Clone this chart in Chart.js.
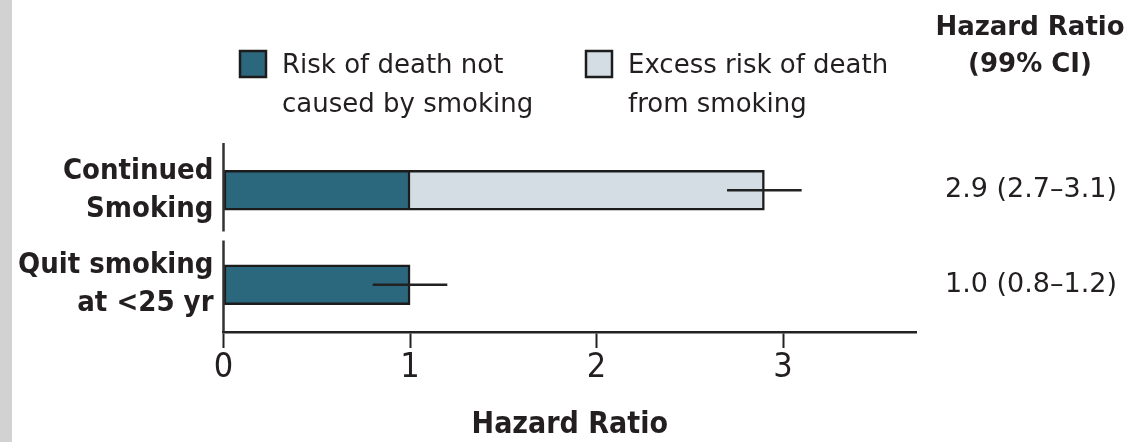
<!DOCTYPE html>
<html>
<head>
<meta charset="utf-8">
<script src="https://cdn.jsdelivr.net/npm/chart.js@4.4.1/dist/chart.umd.min.js"></script>
<style>
  html, body { margin: 0; padding: 0; background: #ffffff; }
  #wrap { position: relative; width: 1133px; height: 442px; }
  #strip { position: absolute; left: 0; top: 0; width: 12px; height: 442px; background: #d2d2d2; }
  canvas { position: absolute; left: 0; top: 0; }
</style>
</head>
<body>
<div id="wrap">
  <canvas id="chart" width="1133" height="442"></canvas>
  <div id="strip"></div>
</div>
<script>
// Groups compared (two-line labels)
const categories = [['Continued', 'Smoking'], ['Quit smoking', 'at <25 yr']];
// Hazard ratio split into the baseline part and the smoking-related excess
const baseRisk = [1.0, 1.0];
const excessRisk = [1.9, 0];
// Hazard ratios with 99% confidence limits
const hazardRatio = [2.9, 1.0];
const ciLow = [2.7, 0.8];
const ciHigh = [3.1, 1.2];
// Axis ticks
const xTickValues = [0, 1, 2, 3];
// Legend and column header text
const seriesNames = [['Risk of death not', 'caused by smoking'], ['Excess risk of death', 'from smoking']];
const columnHeader = ['Hazard Ratio', '(99% CI)'];
const axisTitle = 'Hazard Ratio';

const INK = '#231f20';
const DARK = '#2b677d';
const LIGHT = '#d3dde3';
const EDGE = '#1c1c1c';
const SANS = "'DejaVu Sans', sans-serif";
const COND = "'DejaVu Sans Condensed', 'DejaVu Sans', sans-serif";

function fmt(v) { return v.toFixed(1); }

const decor = {
  id: 'decor',
  afterDatasetsDraw(chart) {
    const { ctx, chartArea, scales: { x, y } } = chart;
    const line = (x1, y1, x2, y2) => { ctx.beginPath(); ctx.moveTo(x1, y1); ctx.lineTo(x2, y2); ctx.stroke(); };
    ctx.save();

    // broken vertical axis: one segment per category band
    const n = categories.length;
    const step = (chartArea.bottom - chartArea.top) / n;
    ctx.strokeStyle = '#333';
    ctx.lineWidth = 2.5;
    for (let i = 0; i < n; i++) {
      const c = y.getPixelForValue(i);
      const top = Math.max(chartArea.top, c - step / 2 + (i > 0 ? 3 : 0));
      const bot = Math.min(chartArea.bottom, c + step / 2 - (i < n - 1 ? 6 : 0));
      line(chartArea.left, top, chartArea.left, bot);
    }

    // confidence interval whiskers
    ctx.strokeStyle = '#222';
    ctx.lineWidth = 2.5;
    for (let i = 0; i < n; i++) {
      const py = y.getPixelForValue(i);
      line(x.getPixelForValue(ciLow[i]), py, x.getPixelForValue(ciHigh[i]), py);
    }

    // hazard ratio column
    ctx.fillStyle = INK;
    ctx.textAlign = 'center';
    ctx.textBaseline = 'alphabetic';
    ctx.font = 'bold 26px ' + SANS;
    ctx.fillText(columnHeader[0], 1030, 35);
    ctx.fillText(columnHeader[1], 1030, 72);
    ctx.font = '27px ' + SANS;
    ctx.textBaseline = 'middle';
    for (let i = 0; i < n; i++) {
      const txt = fmt(hazardRatio[i]) + ' (' + fmt(ciLow[i]) + '\u2013' + fmt(ciHigh[i]) + ')';
      ctx.fillText(txt, 1031, y.getPixelForValue(i));
    }

    // legend
    const boxX = [240, 586];
    ctx.textAlign = 'left';
    ctx.textBaseline = 'alphabetic';
    ctx.font = '26px ' + SANS;
    chart.data.datasets.forEach((ds, k) => {
      ctx.fillStyle = ds.backgroundColor;
      ctx.fillRect(boxX[k], 51, 26, 26);
      ctx.strokeStyle = EDGE;
      ctx.lineWidth = 2.5;
      ctx.strokeRect(boxX[k], 51, 26, 26);
      ctx.fillStyle = INK;
      seriesNames[k].forEach((t, j) => ctx.fillText(t, boxX[k] + 42, 73 + j * 39));
    });

    ctx.restore();
  }
};

new Chart(document.getElementById('chart'), {
  type: 'bar',
  data: {
    labels: categories,
    datasets: [
      {
        label: seriesNames[0].join(' '),
        data: baseRisk,
        backgroundColor: DARK,
        borderColor: EDGE,
        borderWidth: 2.5,
        borderSkipped: false,
        barThickness: 40
      },
      {
        label: seriesNames[1].join(' '),
        data: excessRisk,
        backgroundColor: LIGHT,
        borderColor: EDGE,
        borderWidth: (c) => (c.raw > 0 ? 2.5 : 0),
        borderSkipped: 'start',
        barThickness: 40
      }
    ]
  },
  options: {
    indexAxis: 'y',
    responsive: false,
    animation: false,
    events: [],
    layout: { padding: { left: 0, top: 143, right: 217, bottom: 0 } },
    plugins: { legend: { display: false }, tooltip: { enabled: false } },
    scales: {
      x: {
        stacked: true,
        min: 0,
        max: 3.713,
        afterFit: (s) => { s.height = 110; },
        afterBuildTicks: (s) => { s.ticks = xTickValues.map((v) => ({ value: v })); },
        border: { display: true, color: '#222', width: 2.5 },
        grid: { drawOnChartArea: false, drawTicks: true, tickLength: 16, tickWidth: 2, tickColor: '#222', color: '#222' },
        ticks: {
          color: INK,
          padding: 3,
          maxRotation: 0,
          font: { family: COND, size: 34, lineHeight: 1 }
        },
        title: {
          display: true,
          text: axisTitle,
          color: INK,
          padding: { top: 0, bottom: 2 },
          font: { family: COND, size: 30, weight: 'bold', lineHeight: 1 }
        }
      },
      y: {
        stacked: true,
        afterFit: (s) => { s.width = 223.5; },
        border: { display: false },
        grid: { display: false, drawTicks: false },
        ticks: {
          color: INK,
          padding: 10,
          font: { family: COND, size: 29, weight: 'bold', lineHeight: 1.3 }
        }
      }
    }
  },
  plugins: [decor]
});
</script>
</body>
</html>
